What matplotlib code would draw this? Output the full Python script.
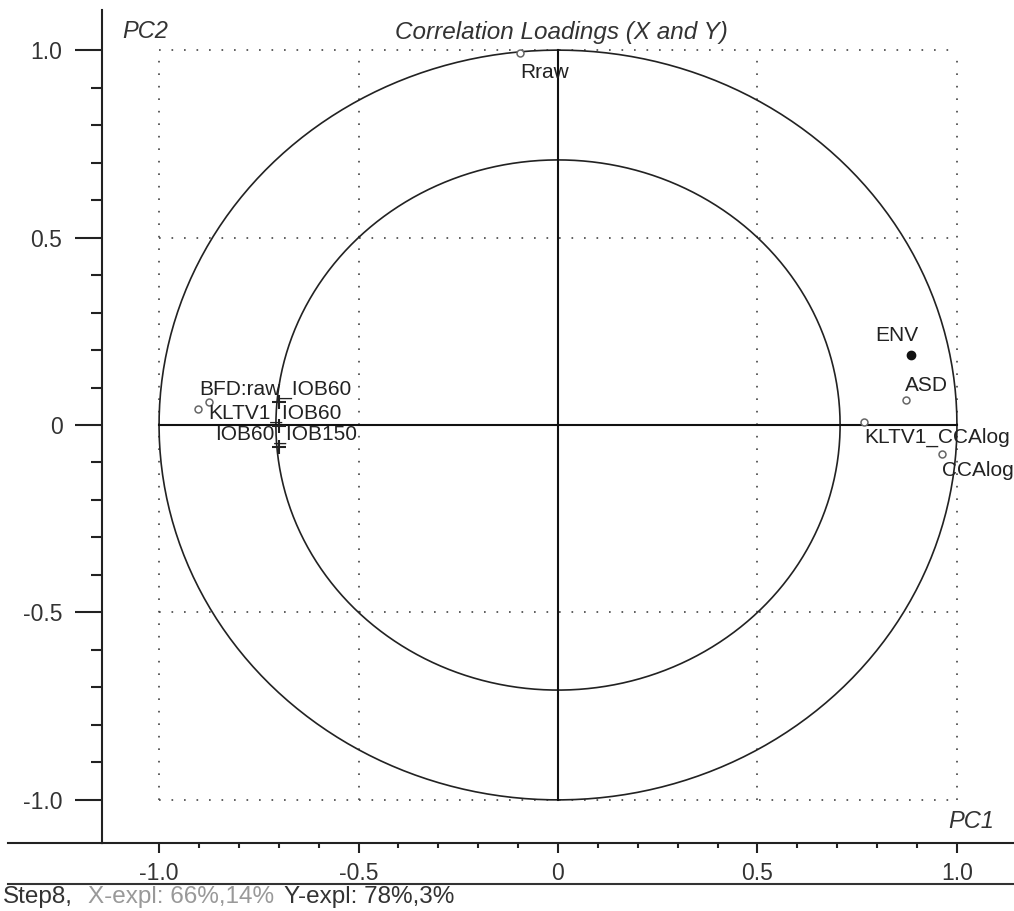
import numpy as np
import matplotlib
matplotlib.use("Agg")
import matplotlib.pyplot as plt
from matplotlib.lines import Line2D

plt.rcParams['font.family'] = ['Liberation Sans', 'DejaVu Sans']

# X-variables (open circles) and the one filled point
x_names = ['Rraw', 'ASD', 'KLTV1_CCAlog', 'CCAlog', '', '']
x_pc1 = [-0.095, 0.872, 0.767, 0.962, -0.902, -0.875]
x_pc2 = [0.992, 0.067, 0.008, -0.077, 0.043, 0.061]
env_pc1, env_pc2 = 0.885, 0.187

# Y-variables (plus markers)
y_names = ['BFD:raw_IOB60', 'KLTV1_IOB60', 'IOB60_IOB150']
y_pc1 = [-0.699, -0.699, -0.699]
y_pc2 = [0.061, -0.003, -0.059]

major_ticks = [-1.0, -0.5, 0.0, 0.5, 1.0]
tick_text = ['-1.0', '-0.5', '0', '0.5', '1.0']

W, H = 1014, 911
fig = plt.figure(figsize=(W / 100, H / 100), dpi=100)
ax = fig.add_axes([102 / W, 1 - 843 / H, 1 - 102 / W, (843 - 10) / H])
ax.set_xlim(-1.143, 1.143)
ax.set_ylim(-1.115, 1.107)

# dotted frame at +/-1 and +/-0.5
dot = dict(color='#444444', lw=1.2, linestyle=(0, (1, 6.5)), zorder=1)
for v in [-1.0, -0.5, 0.5, 1.0]:
    ax.plot([-1, 1], [v, v], **dot)
    ax.plot([v, v], [-1, 1], **dot)

# 100% and 50% explained variance circles
t = np.linspace(0, 2 * np.pi, 400)
ax.plot(np.cos(t), np.sin(t), color='#222222', lw=1.2, zorder=2)
r = np.sqrt(0.5)
ax.plot(r * np.cos(t), r * np.sin(t), color='#222222', lw=1.2, zorder=2)
ax.plot([-1, 1], [0, 0], color='#111111', lw=1.5, zorder=2)
ax.plot([0, 0], [-1, 1], color='#111111', lw=1.5, zorder=2)

ax.plot(x_pc1, x_pc2, 'o', ms=5, mfc='white', mec='#666666', mew=1.1, zorder=3)
ax.plot(env_pc1, env_pc2, 'o', ms=6, color='#111111', zorder=3)
ax.plot(y_pc1, y_pc2, '+', ms=10, mew=1.5, color='#222222', zorder=3)

lab = dict(fontsize=15, color='#222222', zorder=4)
offsets = {'Rraw': (0, -14, 'left', 'center'),
           'ASD': (-1, 10, 'left', 'center'),
           'KLTV1_CCAlog': (0, -11, 'left', 'center'),
           'CCAlog': (0, -12, 'left', 'center')}
for n, px, py in zip(x_names, x_pc1, x_pc2):
    if n in offsets:
        dx, dy, ha, va = offsets[n]
        ax.annotate(n, (px, py), xytext=(dx, dy), textcoords='offset points',
                    ha=ha, va=va, **lab)
ax.annotate('ENV', (env_pc1, env_pc2), xytext=(-10, 14), textcoords='offset points',
            ha='center', va='center', **lab)
for n, px, py, dx in zip(y_names, y_pc1, y_pc2, [-3, -3, 5]):
    ax.annotate(n, (px, py), xytext=(dx, 9), textcoords='offset points',
                ha='center', va='center', **lab)

for s in ['top', 'right']:
    ax.spines[s].set_visible(False)
for s in ['left', 'bottom']:
    ax.spines[s].set_linewidth(1.5)
    ax.spines[s].set_color('#222222')

ax.set_xticks(major_ticks)
ax.set_xticklabels(tick_text)
ax.set_yticks(major_ticks)
ax.set_yticklabels(tick_text)
minor = [v / 10 for v in range(-10, 11) if v % 5 != 0]
ax.set_xticks(minor, minor=True)
ax.set_yticks(minor, minor=True)
ax.tick_params(axis='y', which='major', length=19.5, width=1.5, pad=9, labelsize=16.5,
               colors='#222222', labelcolor='#333333')
ax.tick_params(axis='y', which='minor', length=8, width=1.5, colors='#222222')
ax.tick_params(axis='x', which='major', length=7.5, width=1.5, pad=6, labelsize=16.5,
               colors='#222222', labelcolor='#333333')
ax.tick_params(axis='x', which='minor', length=3.5, width=1.5, colors='#222222')

fig.text(122 / W, 1 - 32 / H, 'PC2', fontsize=17, style='italic', color='#333333',
         ha='left', va='center')
fig.text(561 / W, 1 - 32 / H, 'Correlation Loadings (X and Y)', fontsize=17.5,
         style='italic', color='#333333', ha='center', va='center')
fig.text(948 / W, 1 - 822 / H, 'PC1', fontsize=17, style='italic', color='#333333',
         ha='left', va='center')

# bottom axis line runs under the y tick labels, plus separator for the status line
fig.add_artist(Line2D([8 / W, 102 / W], [1 - 843 / H, 1 - 843 / H], color='#222222', lw=1.5))
fig.add_artist(Line2D([8 / W, 1.0], [1 - 884 / H, 1 - 884 / H], color='#333333', lw=1.5))

fy = 1 - 897 / H
fig.text(3 / W, fy, 'Step8,', fontsize=17.5, color='#333333', va='center')
fig.text(88 / W, fy, 'X-expl: 66%,14%', fontsize=17.5, color='#999999', va='center')
fig.text(284 / W, fy, 'Y-expl: 78%,3%', fontsize=17.5, color='#333333', va='center')

fig.savefig('out.png', dpi=100)
